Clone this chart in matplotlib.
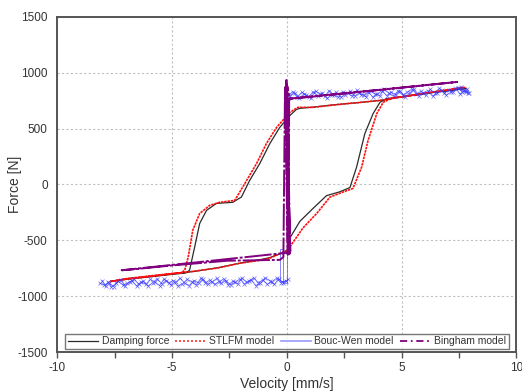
import matplotlib
matplotlib.use("Agg")
import matplotlib.pyplot as plt
from matplotlib.lines import Line2D

plt.rcParams['font.family'] = ['Liberation Sans', 'DejaVu Sans']
plt.rcParams['axes.unicode_minus'] = False

# ---- Damping force (measured) loop: velocity [mm/s], force [N] ----
damp_v = [7.8, 7.0, 6.2, 5.0, 4.06, 3.0, 2.0, 1.14, 0.6, 0.42,
          0.13, -0.31, -0.74, -1.18, -1.62, -1.98, -2.36, -3.07, -3.5, -3.8, -4.02, -4.24, -4.4,
          -5.0, -6.0, -7.0, -7.7,
          -7.0, -6.0, -5.0, -4.0, -3.0, -2.05, -1.2, -0.74, -0.3, 0.0,
          0.13, 0.57, 1.14, 1.73, 2.31, 2.75, 3.04, 3.4, 3.76, 4.06, 4.35,
          5.0, 6.2, 7.0, 7.8]
damp_f = [858, 838, 818, 783, 752, 730, 712, 692, 682, 672,
          616, 510, 366, 187, 36, -113, -160, -170, -232, -350, -563, -768, -792,
          -805, -828, -850, -868,
          -845, -822, -800, -778, -745, -705, -675, -655, -620, -595,
          -480, -330, -215, -100, -66, -28, 155, 455, 634, 735, 768,
          785, 820, 840, 862]

# ---- STLFM model loop ----
stlfm_v = [7.75, 7.0, 6.2, 5.0, 4.06, 3.0, 2.6, 1.14, 0.48,
           0.13, -0.45, -0.89, -1.32, -1.83, -2.27, -2.93, -3.36, -3.8, -4.1, -4.3, -4.45, -4.6,
           -5.0, -6.0, -7.0, -7.7,
           -7.0, -6.0, -5.0, -4.37, -3.0, -2.05, -1.2, -0.74, -0.3, 0.0,
           0.13, 0.7, 1.3, 1.88, 2.45, 2.88, 3.26, 3.54, 3.92, 4.2, 4.63,
           5.0, 6.2, 7.0, 7.75]
stlfm_f = [868, 845, 822, 782, 752, 730, 723, 690, 690,
           645, 510, 366, 187, 9, -143, -160, -187, -260, -410, -650, -768, -790,
           -800, -825, -848, -870,
           -843, -820, -797, -785, -748, -705, -680, -660, -620, -590,
           -560, -390, -260, -113, -68, -36, 155, 393, 634, 735, 777,
           785, 822, 846, 870]

# ---- Bouc-Wen model: lower band (outbound and return), switching, upper band ----
bw_low_out_v = [0.05, -0.15, -0.35, -0.55, -0.75, -0.95, -1.15, -1.35, -1.55, -1.75,
                -1.95, -2.15, -2.35, -2.55, -2.75, -2.95, -3.15, -3.35, -3.55, -3.75,
                -3.95, -4.15, -4.35, -4.55, -4.75, -4.95, -5.15, -5.35, -5.55, -5.75,
                -5.95, -6.15, -6.35, -6.55, -6.75, -6.95, -7.15, -7.35, -7.55, -7.75,
                -7.95, -8.15]
bw_low_out_f = [-850, -880, -845, -895, -860, -835, -885, -905, -855, -875,
                -840, -890, -865, -900, -845, -870, -895, -855, -880, -840,
                -900, -870, -850, -890, -910, -860, -880, -845, -905, -875,
                -850, -895, -870, -910, -860, -885, -900, -865, -915, -880,
                -900, -885]
bw_low_back_v = [-8.05, -7.9, -7.8, -7.65, -7.45, -7.25, -7.05, -6.85, -6.65, -6.45,
                 -6.25, -6.05, -5.85, -5.65, -5.45, -5.25, -5.05, -4.85, -4.65, -4.45,
                 -4.25, -4.05, -3.85, -3.65, -3.45, -3.25, -3.05, -2.85, -2.65, -2.45,
                 -2.25, -2.05, -1.85, -1.65, -1.45, -1.25, -1.05, -0.85, -0.65, -0.45,
                 -0.25, -0.05]
bw_low_back_f = [-860, -910, -870, -920, -885, -855, -905, -875, -850, -895,
                 -865, -910, -880, -845, -890, -860, -900, -875, -840, -885,
                 -905, -860, -880, -850, -895, -870, -840, -885, -860, -900,
                 -875, -845, -890, -865, -835, -880, -855, -895, -870, -840,
                 -880, -860]
bw_jump_v = [-0.05, -0.3, -0.3, -0.15, -0.15, 0.0, 0.0, 0.1, 0.1]
bw_jump_f = [-860, -860, -575, -575, -880, -880, -560, -560, 800]
bw_up_out_v = [0.05, 0.25, 0.45, 0.65, 0.85, 1.05, 1.25, 1.45, 1.65, 1.85,
               2.05, 2.25, 2.45, 2.65, 2.85, 3.05, 3.25, 3.45, 3.65, 3.85,
               4.05, 4.25, 4.45, 4.65, 4.85, 5.05, 5.25, 5.45, 5.65, 5.85,
               6.05, 6.25, 6.45, 6.65, 6.85, 7.05, 7.25, 7.45, 7.65, 7.85,
               7.95, 7.6, 7.9, 7.5, 7.8]
bw_up_out_f = [790, 830, 785, 825, 800, 775, 835, 810, 790, 840,
               800, 780, 830, 815, 790, 845, 805, 785, 835, 810,
               795, 850, 815, 790, 840, 800, 825, 855, 810, 835,
               800, 850, 820, 860, 815, 845, 825, 865, 830, 855,
               820, 870, 815, 860, 825]
bw_up_back_v = [7.75, 7.55, 7.35, 7.15, 6.95, 6.75, 6.55, 6.35, 6.15, 5.95,
                5.75, 5.55, 5.35, 5.15, 4.95, 4.75, 4.55, 4.35, 4.15, 3.95,
                3.75, 3.55, 3.35, 3.15, 2.95, 2.75, 2.55, 2.35, 2.15, 1.95,
                1.75, 1.55, 1.35, 1.15, 0.95, 0.75, 0.55, 0.35, 0.15]
bw_up_back_f = [835, 810, 860, 825, 800, 845, 815, 790, 840, 820,
                795, 850, 815, 785, 835, 805, 825, 795, 840, 810,
                780, 830, 800, 820, 790, 835, 805, 780, 825, 800,
                770, 820, 795, 830, 785, 810, 775, 820, 795]

# ---- Bingham model ----
bh_v = [7.45, 4.0, 0.1, 0.08, -7.2, -6.8, -5.0, -2.6, -0.3, -0.15,
        -0.08, 0.04, -0.02, 0.12, 0.0, 0.15, -0.05, 0.1, 0.02, 0.14, 0.1,
        4.0, 7.45]
bh_f = [918, 845, 765, -610, -768, -762, -725, -683, -675, -650,
        870, -630, 935, -620, 900, -600, 820, -625, 880, 760, 768,
        846, 918]

fig = plt.figure(figsize=(5.22, 3.92), dpi=100)
ax = fig.add_axes([0.110, 0.102, 0.879, 0.855])

ax.plot(damp_v, damp_f, color='#2b2b2b', lw=0.9, zorder=3)
ax.plot(stlfm_v, stlfm_f, color='#ff1010', lw=1.2, ls=(0, (1.5, 0.5)), zorder=4)

bw_style = dict(color='#3535ff', lw=0.6, alpha=0.7, zorder=5,
                marker='x', ms=2.2, mew=0.5)
ax.plot(bw_low_out_v, bw_low_out_f, **bw_style)
ax.plot(bw_low_back_v, bw_low_back_f, **bw_style)
ax.plot(bw_jump_v, bw_jump_f, color='#3535ff', lw=0.6, alpha=0.7, zorder=5)
ax.plot(bw_up_out_v, bw_up_out_f, **bw_style)
ax.plot(bw_up_back_v, bw_up_back_f, **bw_style)

ax.plot(bh_v, bh_f, color='#800080', lw=1.4, ls=(0, (14, 1, 1.5, 1)), zorder=6)

ax.set_xlim(-10, 10)
ax.set_ylim(-1500, 1500)
ax.set_xticks([-10, -5, 0, 5, 10])
ax.set_xticks([-7.5, -2.5, 2.5, 7.5], minor=True)
ax.set_yticks([-1500, -1000, -500, 0, 500, 1000, 1500])
ax.grid(True, which='major', color='#c0c0c0', ls=(0, (2, 2)), lw=0.8)
ax.tick_params(axis='x', which='both', direction='out', length=4, width=1,
               color='#555555', labelsize=8.5, labelcolor='#333333', pad=3)
ax.tick_params(axis='y', length=0, labelsize=8.5, labelcolor='#333333', pad=7)
for s in ax.spines.values():
    s.set_color('#555555')
    s.set_linewidth(1.4)

ax.set_xlabel('Velocity [mm/s]', fontsize=10, color='#333333', labelpad=2)
ax.set_ylabel('Force [N]', fontsize=10, color='#333333')
ax.yaxis.set_label_coords(-0.077, 0.5)

handles = [
    Line2D([], [], color='#2b2b2b', lw=0.9),
    Line2D([], [], color='#ff3030', lw=1.2, ls=(0, (1.2, 1.2))),
    Line2D([], [], color='#9a9aff', lw=1.2),
    Line2D([], [], color='#800080', lw=1.3, ls=(0, (4, 2, 1, 2))),
]
labels = ['Damping force', 'STLFM model', 'Bouc-Wen model', 'Bingham model']
leg = ax.legend(handles, labels, loc='lower center', ncol=4, fontsize=7.5,
                bbox_to_anchor=(0.5, 0.0), borderaxespad=0.3,
                handlelength=2.9, handletextpad=0.35, columnspacing=0.6,
                borderpad=0.25, frameon=True, fancybox=False)
leg.get_frame().set_edgecolor('#555555')
leg.get_frame().set_linewidth(1.0)
for t in leg.get_texts():
    t.set_color('#333333')

fig.savefig('out.png', dpi=100)
